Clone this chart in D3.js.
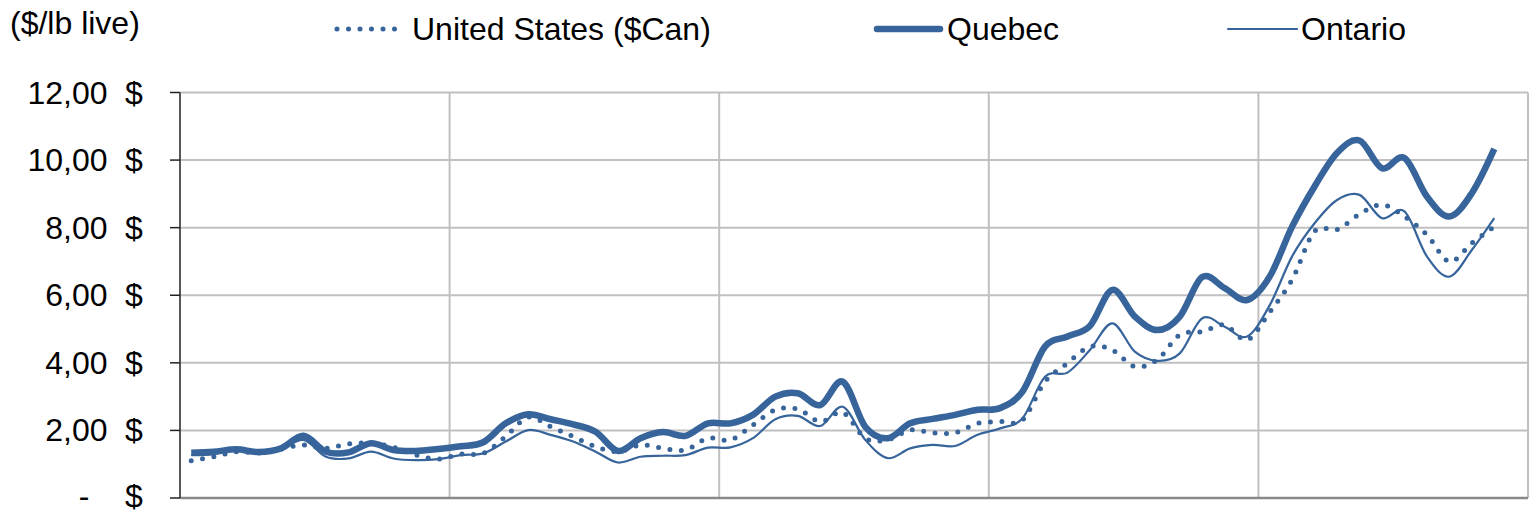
<!DOCTYPE html>
<html>
<head>
<meta charset="utf-8">
<script src="https://cdn.jsdelivr.net/npm/d3@7"></script>
<style>
  html, body { margin: 0; padding: 0; background: #fff; }
  svg { display: block; font-family: "Liberation Sans", Arial, sans-serif; }
</style>
</head>
<body>
<svg id="chart" width="1537" height="513"></svg>
<script>
// ---- data (monthly, 60 categories, 59 observations) ----
const months = d3.range(60);
const quebec = [1.34,1.37,1.44,1.36,1.47,1.84,1.37,1.35,1.62,1.42,1.39,1.45,1.53,1.65,2.21,2.48,2.33,2.18,1.96,1.39,
                1.77,1.95,1.84,2.21,2.21,2.46,3.00,3.10,2.75,3.44,2.11,1.77,2.21,2.34,2.46,2.61,2.66,3.15,4.48,4.78,
                5.09,6.16,5.37,4.97,5.37,6.54,6.21,5.86,6.55,8.03,9.22,10.21,10.58,9.76,10.06,8.92,8.33,9.02,10.33];
const ontario = [1.27,1.30,1.42,1.36,1.45,1.72,1.22,1.17,1.37,1.17,1.12,1.15,1.27,1.32,1.67,2.01,1.87,1.67,1.37,1.05,
                 1.22,1.25,1.27,1.49,1.50,1.77,2.33,2.43,2.13,2.70,1.72,1.18,1.47,1.57,1.54,1.87,2.06,2.36,3.59,3.71,
                 4.38,5.17,4.33,4.06,4.28,5.32,5.07,4.78,5.70,7.15,8.13,8.82,8.97,8.28,8.48,7.15,6.55,7.34,8.28];
const unitedStates = [1.10,1.22,1.37,1.33,1.45,1.57,1.47,1.60,1.62,1.50,1.27,1.15,1.30,1.32,1.82,2.39,2.11,1.82,1.52,1.37,
                      1.57,1.47,1.42,1.77,1.72,2.16,2.61,2.63,2.26,2.53,1.77,1.72,2.01,1.93,1.93,2.21,2.26,2.31,3.44,3.99,
                      4.48,4.38,3.89,4.09,4.83,4.92,5.12,4.68,5.50,6.46,7.89,7.94,8.40,8.68,8.33,7.79,7.00,7.54,8.03];
const yTicks = [0, 2, 4, 6, 8, 10, 12];
const yTickLabels = ["-", "2,00", "4,00", "6,00", "8,00", "10,00", "12,00"];
const seriesNames = ["United States ($Can)", "Quebec", "Ontario"];
const unitLabel = "($/lb live)";

// ---- layout ----
const color = "#37649a";
const svg = d3.select("#chart");
const pLeft = 180, pRight = 1528, pTop = 92.5, pBottom = 498;
const fontSize = 32;

const x = d3.scaleBand().domain(months).range([pLeft, pRight]).padding(0);
const y = d3.scaleLinear().domain([0, 12]).range([pBottom, pTop]);
const cx = i => x(i) + x.bandwidth() / 2;

// horizontal gridlines
svg.append("g").selectAll("line").data(yTicks.filter(d => d > 0)).join("line")
  .attr("x1", pLeft).attr("x2", pRight)
  .attr("y1", d => y(d)).attr("y2", d => y(d))
  .attr("stroke", "#c0c0c0").attr("stroke-width", 2);

// vertical gridlines (every 12 months + right border)
const vLines = [12, 24, 36, 48];
svg.append("g").selectAll("line").data(vLines).join("line")
  .attr("x1", d => x(d)).attr("x2", d => x(d))
  .attr("y1", pTop).attr("y2", pBottom)
  .attr("stroke", "#c0c0c0").attr("stroke-width", 2);
svg.append("line")
  .attr("x1", x.range()[1]).attr("x2", x.range()[1])
  .attr("y1", pTop).attr("y2", pBottom)
  .attr("stroke", "#c0c0c0").attr("stroke-width", 2);

// bottom axis line
svg.append("line")
  .attr("x1", pLeft).attr("x2", pRight)
  .attr("y1", y(0)).attr("y2", y(0))
  .attr("stroke", "#898989").attr("stroke-width", 2.5);

// left axis + ticks
svg.append("line")
  .attr("x1", pLeft).attr("x2", pLeft)
  .attr("y1", y(12)).attr("y2", y(0))
  .attr("stroke", "#444").attr("stroke-width", 1.8);
svg.append("g").selectAll("line").data(yTicks).join("line")
  .attr("x1", pLeft - 10).attr("x2", pLeft)
  .attr("y1", d => y(d)).attr("y2", d => y(d))
  .attr("stroke", "#222").attr("stroke-width", 1.5);

// y tick labels
const baseY = d => d === 0 ? y(d) + 8.5 : y(d) + 11;
const tl = svg.append("g").attr("font-size", fontSize).attr("fill", "#000");
tl.selectAll("text.num").data(yTicks).join("text")
  .attr("class", "num")
  .attr("x", d => d === 0 ? 84 : 107.5)
  .attr("y", baseY)
  .attr("text-anchor", d => d === 0 ? "middle" : "end")
  .text((d, i) => yTickLabels[i]);
tl.selectAll("text.cur").data(yTicks).join("text")
  .attr("class", "cur")
  .attr("x", 134)
  .attr("y", baseY)
  .attr("text-anchor", "middle")
  .text("$");

// lines
const line = d3.line()
  .x((d, i) => cx(i))
  .y(d => y(d))
  .curve(d3.curveCardinal.tension(0));

svg.append("path").datum(ontario)
  .attr("d", line).attr("fill", "none")
  .attr("stroke", color).attr("stroke-width", 2.2);
svg.append("path").datum(unitedStates)
  .attr("d", line).attr("fill", "none")
  .attr("stroke", color).attr("stroke-width", 5)
  .attr("stroke-linecap", "round").attr("stroke-dasharray", "0 11.5");
svg.append("path").datum(quebec)
  .attr("d", line).attr("fill", "none")
  .attr("stroke", color).attr("stroke-width", 6.5)
  .attr("stroke-linejoin", "round");

// legend / unit label
const lg = svg.append("g").attr("font-size", fontSize).attr("fill", "#000");
lg.append("text").attr("x", 10).attr("y", 34).text(unitLabel);

const legendItems = [
  { name: seriesNames[0], x1: 337, x2: 403, tx: 412, w: 5, dash: "0 11.5" },
  { name: seriesNames[1], x1: 877, x2: 940, tx: 947, w: 6.5, dash: null },
  { name: seriesNames[2], x1: 1228, x2: 1297, tx: 1301, w: 2.2, dash: null }
];
legendItems.forEach(it => {
  const l = lg.append("line")
    .attr("x1", it.x1).attr("x2", it.x2).attr("y1", 29).attr("y2", 29)
    .attr("stroke", color).attr("stroke-width", it.w)
    .attr("stroke-linecap", "round");
  if (it.dash) l.attr("stroke-dasharray", it.dash);
  lg.append("text").attr("x", it.tx).attr("y", 40).text(it.name);
});
</script>
</body>
</html>
